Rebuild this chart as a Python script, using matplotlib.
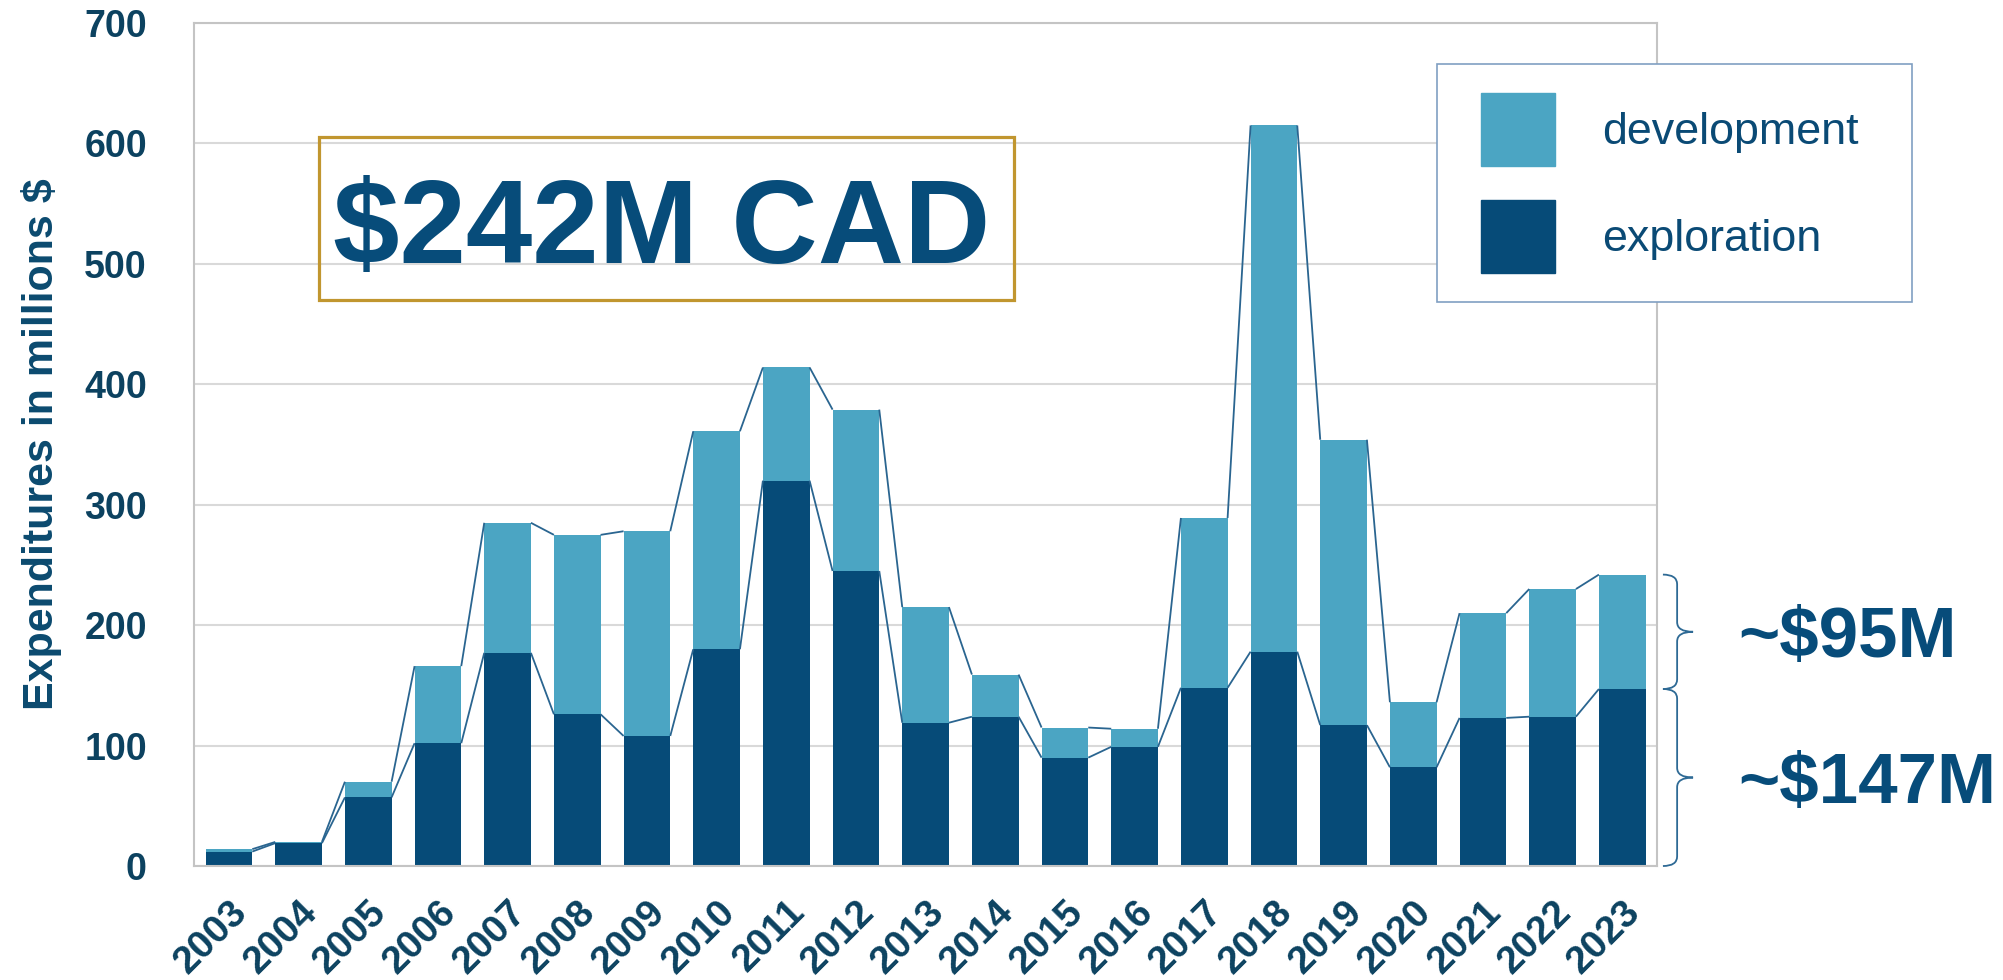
import matplotlib
matplotlib.use('Agg')
import matplotlib.pyplot as plt
import matplotlib.transforms as mtransforms
from matplotlib.patches import Rectangle, Patch, PathPatch
from matplotlib.path import Path
from matplotlib.collections import LineCollection
from matplotlib.legend_handler import HandlerPatch
import numpy as np

# data (millions $ CAD)
years = [str(y) for y in range(2003, 2024)]
exploration = [12, 19, 57, 102, 177, 126, 108, 180, 320, 245, 119,
               124, 90, 99, 148, 178, 117, 82, 123, 124, 147]
development = [2, 1, 13, 64, 108, 149, 170, 181, 94, 134, 96,
               35, 25, 15, 141, 437, 237, 54, 87, 106, 95]
legend_labels = ['development', 'exploration']
yticks = [0, 100, 200, 300, 400, 500, 600, 700]
ylabel = 'Expenditures in millions $'
total_label = '$242M CAD'
dev_note = '~$95M'
expl_note = '~$147M'

# colours
DARK = '#064B78'
LIGHT = '#4BA5C3'
SERIES_LINE = '#2A6590'
TICK = '#0C4260'
BIG = '#074C7A'
GOLD = '#C1962F'

plt.rcParams['font.family'] = ['Liberation Sans', 'DejaVu Sans']

fig = plt.figure(figsize=(20.03, 9.8), dpi=100)
ax = fig.add_axes([0.0969, 0.1163, 0.7304, 0.8602])

x = np.arange(len(years))
expl = np.array(exploration)
dev = np.array(development)
tot = expl + dev
w = 0.67

ax.bar(x, expl, w, color=DARK, zorder=2)
ax.bar(x, dev, w, bottom=expl, color=LIGHT, zorder=2)

# series lines joining the bar tops
segs = []
for i in range(len(x) - 1):
    for level in (expl, tot):
        segs.append([(x[i] + w / 2, level[i]), (x[i + 1] - w / 2, level[i + 1])])
ax.add_collection(LineCollection(segs, colors=SERIES_LINE, linewidths=1.3, zorder=3))

ax.set_xlim(-0.5, len(x) - 0.5)
ax.set_ylim(0, 700)
ax.set_yticks(yticks)
ax.grid(axis='y', color='#D9D9D9', linewidth=1.5)
ax.set_axisbelow(True)
for s in ax.spines.values():
    s.set_color('#C4C4C4')
    s.set_linewidth(1.5)

ax.tick_params(axis='both', length=0)
ax.tick_params(axis='y', pad=34, labelsize=27, labelcolor=TICK)
for t in ax.get_yticklabels():
    t.set_fontweight('bold')
ax.set_xticks(x)
ax.set_xticklabels(years, rotation=45, ha='right', va='top', rotation_mode='anchor',
                   fontsize=28, fontweight='bold', color=TICK)
ax.tick_params(axis='x', pad=20)

ax.set_ylabel(ylabel, fontsize=31, fontweight='bold', color='#0B4A6F', labelpad=16,
              parse_math=False)

# legend (handles shifted right a bit with xpad)
handles = [Patch(color=LIGHT), Patch(color=DARK)]
leg = fig.legend(handles, legend_labels, loc='upper left',
                 bbox_to_anchor=(1437 / 2003, 1 - 298 / 980, 475 / 2003, 234 / 980),
                 mode='expand', borderaxespad=0, borderpad=0.65, fontsize=32.3,
                 labelcolor='#0A4A75', handlelength=1.98, handleheight=2.126,
                 handletextpad=1.05, labelspacing=0.76, fancybox=False,
                 edgecolor='#809FC2', framealpha=1,
                 handler_map={Patch: HandlerPatch(xpad=0.334)})
leg.get_frame().set_linewidth(1.2)

# total box
fig.add_artist(Rectangle((319 / 2003, 1 - 300 / 980), 695 / 2003, 163 / 980,
                         transform=fig.transFigure, fill=False, edgecolor=GOLD,
                         linewidth=2.3))
fig.text(662 / 2003, 1 - 263 / 980, total_label, ha='center', va='baseline',
         fontsize=86, fontweight='bold', color=BIG, parse_math=False)

# braces for the 2023 split
trans = mtransforms.blended_transform_factory(ax.transAxes, ax.transData)
xe, xb, xt = 1.004, 1.0137, 1.0246
r = 8


def brace(top, bot):
    mid = (top + bot) / 2
    verts = [(xe, top), (xb, top), (xb, top - r),
             (xb, mid + r), (xb, mid), (xt, mid),
             (xb, mid), (xb, mid - r),
             (xb, bot + r), (xb, bot), (xe, bot)]
    codes = [Path.MOVETO, Path.CURVE3, Path.CURVE3,
             Path.LINETO, Path.CURVE3, Path.CURVE3,
             Path.CURVE3, Path.CURVE3,
             Path.LINETO, Path.CURVE3, Path.CURVE3]
    ax.add_patch(PathPatch(Path(verts, codes), transform=trans, fill=False,
                           edgecolor='#2E6A95', linewidth=1.3, clip_on=False))
    return mid


trans_txt = mtransforms.blended_transform_factory(fig.transFigure, ax.transData)
m1 = brace(tot[-1], expl[-1])
m2 = brace(expl[-1], 0)
ax.text(1738 / 2003, m1, dev_note, transform=trans_txt, ha='left', va='center_baseline',
        fontsize=51, fontweight='bold', color=BIG, clip_on=False, parse_math=False)
ax.text(1738 / 2003, m2, expl_note, transform=trans_txt, ha='left', va='center_baseline',
        fontsize=51, fontweight='bold', color=BIG, clip_on=False, parse_math=False)

fig.savefig('out.png', dpi=100)
